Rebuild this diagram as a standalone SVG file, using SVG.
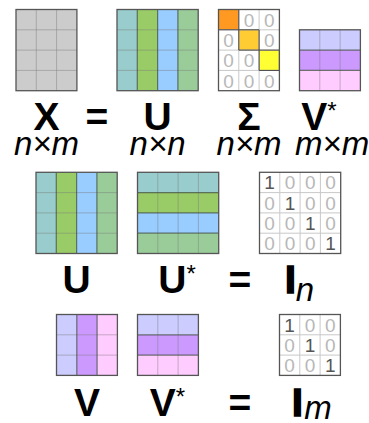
<svg xmlns="http://www.w3.org/2000/svg" width="369" height="423" viewBox="0 0 369 423">
<style>
.bg{fill:#ffffff}
.frame{fill:none;stroke:#555555;stroke-width:1.3}
.grid{stroke:#7a7a7a;stroke-opacity:0.45;stroke-width:1}
.igrid{stroke:#c8c8c8;stroke-width:1}
.sep{stroke:#3f4f3f;stroke-opacity:0.75;stroke-width:1.2}
.big{font-family:"Liberation Sans",Arial,sans-serif;font-weight:bold;font-size:39px;fill:#000;text-anchor:middle}
.ast{font-weight:normal;font-size:24px}
.thick{stroke:#000;stroke-width:1.6}
.sub{font-family:"Liberation Sans",Arial,sans-serif;font-style:italic;font-size:33px;fill:#000;text-anchor:middle}
.z{font-family:"Liberation Sans",Arial,sans-serif;font-size:19px;fill:#b8b8b8;text-anchor:middle}
.one{fill:#555555}
.c1{fill:#99cccc}.c2{fill:#99cc66}.c3{fill:#99ccff}.c4{fill:#99cc99}
.v1{fill:#ccccff}.v2{fill:#cc99ff}.v3{fill:#ffccff}
</style>
<rect class="bg" x="0" y="0" width="369" height="423"/>

<!-- Row 1 -->
<g id="X">
<rect x="16" y="9.5" width="60.9" height="81.2" fill="#cccccc"/>
<path class="grid" d="M36.3 9.5V90.7M56.6 9.5V90.7M16 29.8H76.9M16 50.1H76.9M16 70.4H76.9"/>
<rect class="frame" x="16" y="9.5" width="60.9" height="81.2"/>
</g>

<g id="U">
<rect class="c1" x="117" y="9.5" width="20.3" height="81.2"/>
<rect class="c2" x="137.3" y="9.5" width="20.3" height="81.2"/>
<rect class="c3" x="157.6" y="9.5" width="20.3" height="81.2"/>
<rect class="c4" x="177.9" y="9.5" width="20.3" height="81.2"/>
<path class="grid" d="M117 29.8H198.2M117 50.1H198.2M117 70.4H198.2"/>
<path class="sep" d="M137.3 9.5V90.7M157.6 9.5V90.7M177.9 9.5V90.7"/>
<rect class="frame" x="117" y="9.5" width="81.2" height="81.2"/>
</g>

<g id="Sigma">
<rect x="218.5" y="9.5" width="20.3" height="20.3" fill="#ff9922"/>
<rect x="238.8" y="29.8" width="20.3" height="20.3" fill="#ffcc33"/>
<rect x="259.1" y="50.1" width="20.3" height="20.3" fill="#ffff33"/>
<path class="igrid" d="M238.8 9.5V90.7M259.1 9.5V90.7M218.5 29.8H279.4M218.5 50.1H279.4M218.5 70.4H279.4"/>
<path fill="none" stroke="#444" stroke-width="1" d="M218.5 9.5h20.3v20.3h-20.3zM238.8 29.8h20.3v20.3h-20.3zM259.1 50.1h20.3v20.3h-20.3z"/>
<rect class="frame" x="218.5" y="9.5" width="60.9" height="81.2"/>
<text class="z" x="249" y="26.6">0</text>
<text class="z" x="269.2" y="26.6">0</text>
<text class="z" x="228.6" y="46.9">0</text>
<text class="z" x="269.2" y="46.9">0</text>
<text class="z" x="228.6" y="67.2">0</text>
<text class="z" x="249" y="67.2">0</text>
<text class="z" x="228.6" y="87.5">0</text>
<text class="z" x="249" y="87.5">0</text>
<text class="z" x="269.2" y="87.5">0</text>
</g>

<g id="Vstar-top">
<rect class="v1" x="299.5" y="29.8" width="60.9" height="20.3"/>
<rect class="v2" x="299.5" y="50.1" width="60.9" height="20.3"/>
<rect class="v3" x="299.5" y="70.4" width="60.9" height="20.3"/>
<path class="grid" d="M319.8 29.8V90.7M340.1 29.8V90.7"/>
<path class="sep" d="M299.5 50.1H360.4M299.5 70.4H360.4"/>
<rect class="frame" x="299.5" y="29.8" width="60.9" height="60.9"/>
</g>

<g id="labels-row1">
<text class="big" x="46.5" y="130">X</text>
<text class="big" x="97" y="130">=</text>
<text class="big" x="157.6" y="130">U</text>
<text class="big" x="249" y="130">Σ</text>
<text class="big" x="319" y="130">V<tspan class="ast" dy="-11">*</tspan></text>
<text class="sub" x="46.5" y="155">n×m</text>
<text class="sub" x="157.6" y="155">n×n</text>
<text class="sub" x="249" y="155">n×m</text>
<text class="sub" x="332" y="155">m×m</text>
</g>

<!-- Row 2 -->
<g id="U2">
<rect class="c1" x="36" y="172.3" width="20.3" height="81.2"/>
<rect class="c2" x="56.3" y="172.3" width="20.3" height="81.2"/>
<rect class="c3" x="76.6" y="172.3" width="20.3" height="81.2"/>
<rect class="c4" x="96.9" y="172.3" width="20.3" height="81.2"/>
<path class="grid" d="M36 192.6H117.2M36 212.9H117.2M36 233.2H117.2"/>
<path class="sep" d="M56.3 172.3V253.5M76.6 172.3V253.5M96.9 172.3V253.5"/>
<rect class="frame" x="36" y="172.3" width="81.2" height="81.2"/>
</g>

<g id="Ustar">
<rect class="c1" x="137.5" y="172.3" width="81.2" height="20.3"/>
<rect class="c2" x="137.5" y="192.6" width="81.2" height="20.3"/>
<rect class="c3" x="137.5" y="212.9" width="81.2" height="20.3"/>
<rect class="c4" x="137.5" y="233.2" width="81.2" height="20.3"/>
<path class="grid" d="M157.8 172.3V253.5M178.1 172.3V253.5M198.4 172.3V253.5"/>
<path class="sep" d="M137.5 192.6H218.7M137.5 212.9H218.7M137.5 233.2H218.7"/>
<rect class="frame" x="137.5" y="172.3" width="81.2" height="81.2"/>
</g>

<g id="In">
<path class="igrid" d="M279.8 172.3V253.5M300.1 172.3V253.5M320.4 172.3V253.5M259.5 192.6H340.7M259.5 212.9H340.7M259.5 233.2H340.7"/>
<rect class="frame" x="259.5" y="172.3" width="81.2" height="81.2"/>
<text class="z one" x="269.6" y="189.4">1</text>
<text class="z" x="290" y="189.4">0</text>
<text class="z" x="310.3" y="189.4">0</text>
<text class="z" x="330.6" y="189.4">0</text>
<text class="z" x="269.6" y="209.7">0</text>
<text class="z one" x="290" y="209.7">1</text>
<text class="z" x="310.3" y="209.7">0</text>
<text class="z" x="330.6" y="209.7">0</text>
<text class="z" x="269.6" y="230">0</text>
<text class="z" x="290" y="230">0</text>
<text class="z one" x="310.3" y="230">1</text>
<text class="z" x="330.6" y="230">0</text>
<text class="z" x="269.6" y="250.3">0</text>
<text class="z" x="290" y="250.3">0</text>
<text class="z" x="310.3" y="250.3">0</text>
<text class="z one" x="330.6" y="250.3">1</text>
</g>

<g id="labels-row2">
<text class="big" x="76.6" y="293">U</text>
<text class="big" x="177" y="293">U<tspan class="ast" dy="-11">*</tspan></text>
<text class="big" x="240" y="293">=</text>
<text class="big thick" x="290.5" y="293">I</text>
<text class="sub" x="305" y="301">n</text>
</g>

<!-- Row 3 -->
<g id="V">
<rect class="v1" x="56.5" y="314.5" width="20.3" height="60.9"/>
<rect class="v2" x="76.8" y="314.5" width="20.3" height="60.9"/>
<rect class="v3" x="97.1" y="314.5" width="20.3" height="60.9"/>
<path class="grid" d="M56.5 334.8H117.4M56.5 355.1H117.4"/>
<path class="sep" d="M76.8 314.5V375.4M97.1 314.5V375.4"/>
<rect class="frame" x="56.5" y="314.5" width="60.9" height="60.9"/>
</g>

<g id="Vstar">
<rect class="v1" x="137.5" y="314.5" width="60.9" height="20.3"/>
<rect class="v2" x="137.5" y="334.8" width="60.9" height="20.3"/>
<rect class="v3" x="137.5" y="355.1" width="60.9" height="20.3"/>
<path class="grid" d="M157.8 314.5V375.4M178.1 314.5V375.4"/>
<path class="sep" d="M137.5 334.8H198.4M137.5 355.1H198.4"/>
<rect class="frame" x="137.5" y="314.5" width="60.9" height="60.9"/>
</g>

<g id="Im">
<path class="igrid" d="M299.8 314.5V375.4M320.1 314.5V375.4M279.5 334.8H340.4M279.5 355.1H340.4"/>
<rect class="frame" x="279.5" y="314.5" width="60.9" height="60.9"/>
<text class="z one" x="289.6" y="331.6">1</text>
<text class="z" x="310" y="331.6">0</text>
<text class="z" x="330.3" y="331.6">0</text>
<text class="z" x="289.6" y="351.9">0</text>
<text class="z one" x="310" y="351.9">1</text>
<text class="z" x="330.3" y="351.9">0</text>
<text class="z" x="289.6" y="372.2">0</text>
<text class="z" x="310" y="372.2">0</text>
<text class="z one" x="330.3" y="372.2">1</text>
</g>

<g id="labels-row3">
<text class="big" x="87" y="416">V</text>
<text class="big" x="167.5" y="416">V<tspan class="ast" dy="-11">*</tspan></text>
<text class="big" x="240" y="416">=</text>
<text class="big thick" x="297.5" y="416">I</text>
<text class="sub" x="318" y="419">m</text>
</g>
</svg>
